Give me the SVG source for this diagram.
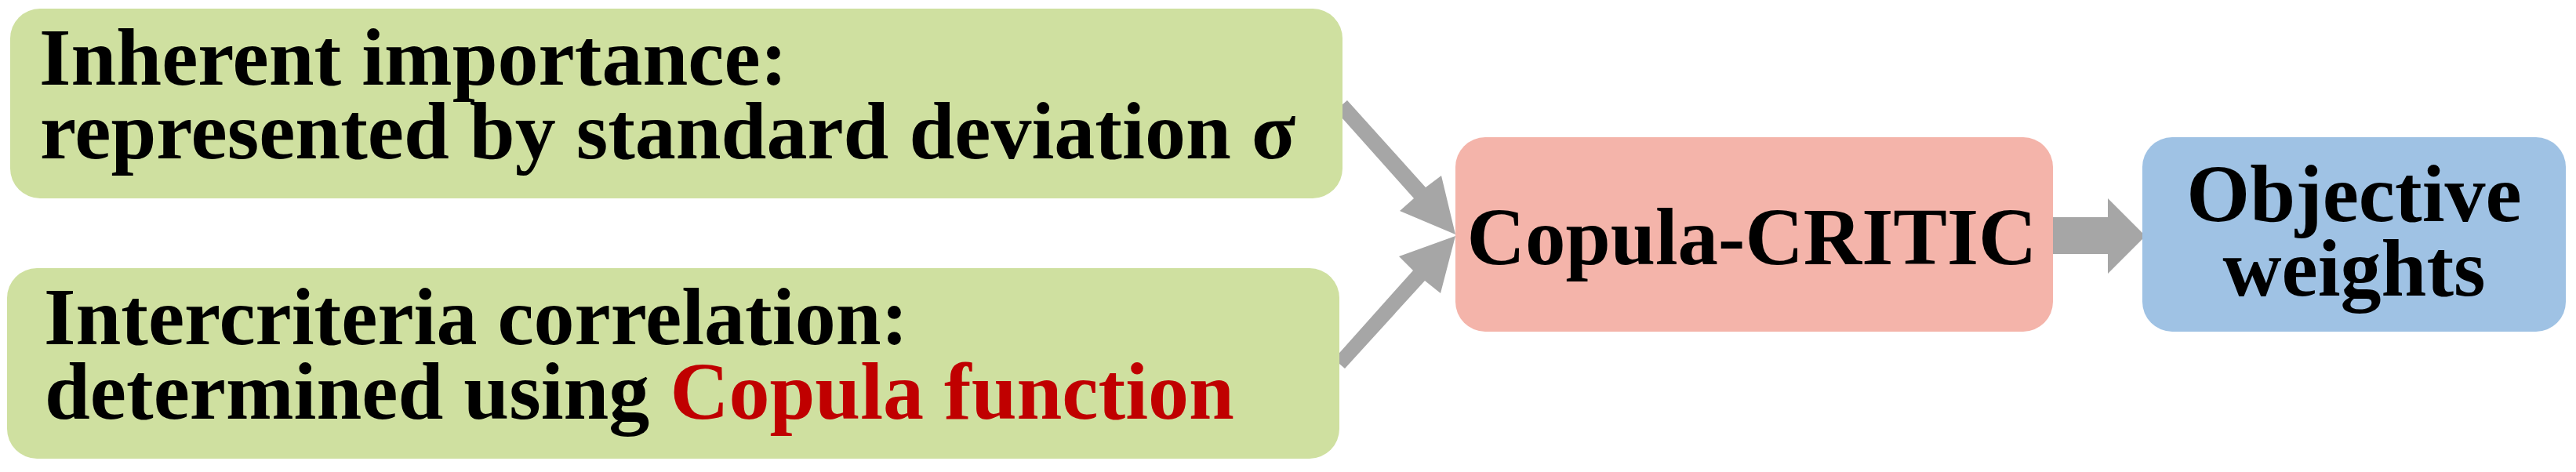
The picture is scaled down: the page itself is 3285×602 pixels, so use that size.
<svg xmlns="http://www.w3.org/2000/svg" width="3285" height="602" viewBox="0 0 3285 602">
<style>
.t{font-family:"Liberation Serif","Times New Roman",serif;font-weight:bold;font-size:104px;fill:#000}
.c{font-family:"Liberation Serif","Times New Roman",serif;font-weight:bold;font-size:103px;fill:#000}
.red{fill:#C00000}
.arr{fill:#A6A6A6}
</style>
<rect width="3285" height="602" fill="#FFFFFF"/>
<g id="connectors">
<polygon class="arr" points="1718,128 1818,239 1838,224 1856,299 1785,269 1803,253 1703,141"/>
<polygon class="arr" points="1701,458 1802,345 1784,327 1856,301 1837,374 1817,358 1715,470"/>
<polygon class="arr" points="2610,277 2688,277 2688,253 2736,301 2688,349 2688,324 2610,324"/>
</g>
<g id="node-inherent">
<rect x="13" y="11" width="1699" height="242" rx="38" ry="38" fill="#CFE0A0"/>
<text class="t" x="50" y="108">Inherent importance:</text>
<text class="t" x="51" y="202">represented by standard deviation σ</text>
</g>
<g id="node-intercriteria">
<rect x="9" y="342" width="1699" height="243" rx="38" ry="38" fill="#CFE0A0"/>
<text class="t" x="56" y="439">Intercriteria correlation:</text>
<text class="t" x="57" y="534">determined using <tspan class="red">Copula function</tspan></text>
</g>
<g id="node-copula-critic">
<rect x="1856" y="175" width="762" height="248" rx="38" ry="38" fill="#F4B4AA"/>
<text class="c" x="2234" y="337" text-anchor="middle">Copula-CRITIC</text>
</g>
<g id="node-objective">
<rect x="2732" y="175" width="540" height="248" rx="38" ry="38" fill="#9FC2E4"/>
<text class="t" x="3002" y="282" text-anchor="middle">Objective</text>
<text class="t" x="3002" y="377" text-anchor="middle">weights</text>
</g>
</svg>
